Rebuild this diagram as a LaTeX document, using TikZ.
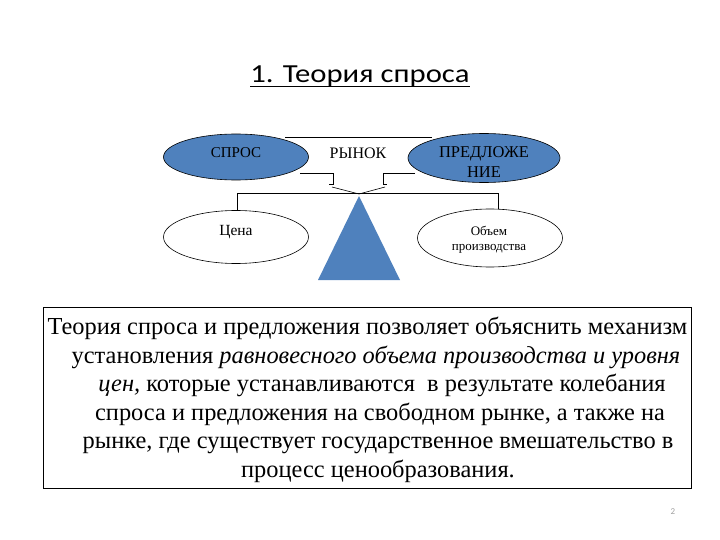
\documentclass[tikz,border=0pt]{standalone}
\usepackage{fontspec}
\setmainfont{Liberation Serif}
\newfontfamily\titlefont[FakeStretch=1.18]{Carlito}
\newfontfamily\pagefont{Carlito}
\usetikzlibrary{shapes.geometric}
\definecolor{ovalblue}{HTML}{4F81BD}
\definecolor{pagegray}{HTML}{A0A0A0}
\tikzset{
  oval/.style={ellipse, draw=black, line width=0.6pt, inner sep=0pt},
  blueoval/.style={oval, fill=ovalblue},
  whiteoval/.style={oval, fill=white},
  small/.style={inner sep=0pt, anchor=center, align=center},
  body/.style={font=\fontsize{24.4}{28}\selectfont, anchor=base, inner sep=0pt},
  thinline/.style={line width=0.6pt, black}
}
\begin{document}
\begin{tikzpicture}[x=1pt,y=-1pt]
\useasboundingbox (0,0) rectangle (720,540);
% title
\node[font=\titlefont\fontsize{26}{30}\selectfont, anchor=base, inner sep=0pt] (title) at (360,83) {1. Теория спроса};
\draw[line width=1.3pt] ([yshift=-3.5pt]title.base west) -- ([yshift=-3.5pt]title.base east);
% top connector line
\coordinate (topL) at (285,137);
\coordinate (topR) at (432,137);
\draw[thinline] (topL) -- (topR);
% left bracket arrow
\coordinate (lb1) at (300,173);
\coordinate (lb2) at (333,173);
\coordinate (lb3) at (333,184);
\coordinate (lb4) at (329,184);
\coordinate (lb5) at (332,187);
\coordinate (apex) at (359,194);
\draw[thinline] (lb1) -- (lb2) -- (lb3) -- (lb4);
\draw[thinline] (lb5) -- (apex);
% right bracket arrow
\coordinate (rb1) at (415,173);
\coordinate (rb2) at (383,173);
\coordinate (rb3) at (383,184);
\coordinate (rb4) at (387,184);
\coordinate (rb5) at (385,187);
\draw[thinline] (rb1) -- (rb2) -- (rb3) -- (rb4);
\draw[thinline] (rb5) -- (apex);
% beam
\coordinate (beamL) at (237,193);
\coordinate (beamR) at (498,193);
\coordinate (beamLd) at (237,211);
\coordinate (beamRd) at (498,211);
\draw[thinline] (beamLd) -- (beamL) -- (beamR) -- (beamRd);
% top ovals
\node[blueoval, minimum width=145pt, minimum height=46pt] (spros) at (236,157) {};
\node[small, font=\fontsize{15}{17}\selectfont] (sprostxt) at (236,153) {СПРОС};
\node[blueoval, minimum width=152pt, minimum height=49pt] (predl) at (484,158) {};
\node[small, font=\fontsize{16.5}{20}\selectfont] (predltxt) at (484,162) {ПРЕДЛОЖЕ\\НИЕ};
\node[small, font=\fontsize{16}{18}\selectfont] (rynok) at (358,153) {РЫНОК};
% bottom ovals
\node[whiteoval, minimum width=145pt, minimum height=53pt] (cena) at (236,237) {};
\node[small, font=\fontsize{15.5}{18}\selectfont] (cenatxt) at (236,232) {Цена};
\node[whiteoval, minimum width=145pt, minimum height=58pt] (obem) at (490,238) {};
\node[small, font=\fontsize{13}{15}\selectfont] (obemtxt) at (489,240) {Объем\\производства};
% fulcrum
\coordinate (triA) at (359,196);
\coordinate (triL) at (318,280);
\coordinate (triR) at (400,280);
\fill[ovalblue] (triA) -- (triR) -- (triL) -- cycle;
% text box
\node[draw=black, line width=0.9pt, minimum width=648pt, minimum height=181pt, anchor=north west, inner sep=0pt] (box) at (43,307) {};
\node[body] (l1) at (367.5,334) {Теория спроса и предложения позволяет объяснить механизм};
\node[body] (l2) at (376,363) {установления \textit{равновесного объема производства и уровня}};
\node[body] (l3) at (382,391) {\textit{цен,} которые устанавливаются \ в результате колебания};
\node[body] (l4) at (380,420) {спроса и предложения на свободном рынке, а также на};
\node[body] (l5) at (378,448) {рынке, где существует государственное вмешательство в};
\node[body] (l6) at (378,477) {процесс ценообразования.};
% page number
\node[font=\pagefont\fontsize{9}{10}\selectfont, text=pagegray, inner sep=0pt] (pg) at (673,512) {2};
\end{tikzpicture}
\end{document}
